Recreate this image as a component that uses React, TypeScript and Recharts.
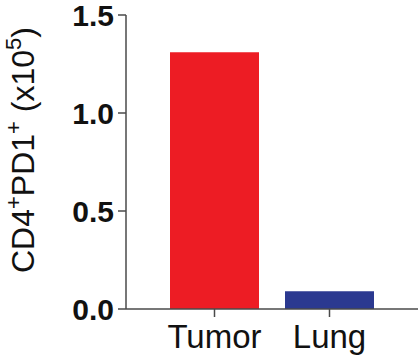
import { BarChart, Bar, XAxis, YAxis, Cell } from "recharts";

const categories = ["Tumor", "Lung"];
const counts = [1.31, 0.09];
const barColors = ["#ED1C24", "#2B3990"];
const yTicks = [0, 0.5, 1.0, 1.5];

const data = categories.map((name, i) => ({ name, value: counts[i] }));

const FONT = "'Liberation Sans', Arial, Helvetica, sans-serif";
const AXIS = "#4a4a4a";

function YLabel() {
  const x = 34;
  const y = 150;
  return (
    <text
      x={x}
      y={y}
      transform={`rotate(-90 ${x} ${y})`}
      textAnchor="middle"
      fontSize={32}
      fontFamily={FONT}
      fill="#111"
    >
      CD4
      <tspan dy={-13} fontSize={22}>+</tspan>
      <tspan dy={13}>PD1</tspan>
      <tspan dy={-13} fontSize={22}>+</tspan>
      <tspan dy={13}>{" (x10"}</tspan>
      <tspan dy={-13} fontSize={22}>5</tspan>
      <tspan dy={13}>)</tspan>
    </text>
  );
}

const App = () => {
  return (
    <div style={{ position: "absolute", left: 0, top: 0, width: 418, height: 360, background: "#fff" }}>
      <BarChart
        width={418}
        height={360}
        data={data}
        margin={{ top: 15, right: 0, bottom: 0, left: 0 }}
      >
        <XAxis
          dataKey="name"
          height={51}
          padding={{ left: 31, right: 31 }}
          stroke={AXIS}
          strokeWidth={1.5}
          tickSize={8}
          tickMargin={8}
          tick={{ fill: "#111", fontSize: 33, fontFamily: FONT }}
        />
        <YAxis
          width={126}
          domain={[0, 1.5]}
          ticks={yTicks}
          interval={0}
          stroke={AXIS}
          strokeWidth={1.5}
          tickSize={8}
          tickMargin={4}
          tickFormatter={(v: number) => v.toFixed(1)}
          tick={{ fill: "#111", fontSize: 30, fontWeight: "bold", fontFamily: FONT }}
          label={<YLabel />}
        />
        <Bar dataKey="value" barSize={89} isAnimationActive={false}>
          {data.map((d, i) => (
            <Cell key={d.name} fill={barColors[i]} />
          ))}
        </Bar>
      </BarChart>
    </div>
  );
};

export default App;
